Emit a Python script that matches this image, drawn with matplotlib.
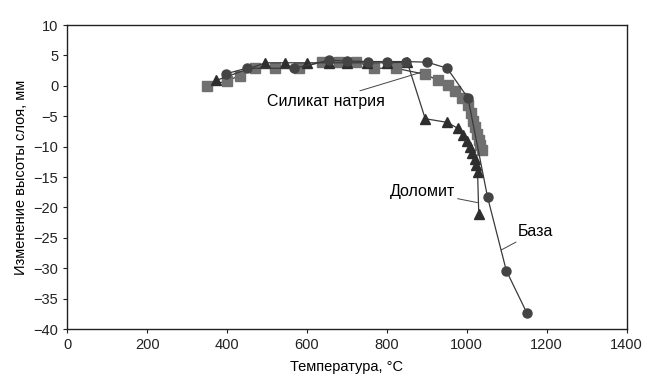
import numpy as np
import matplotlib
matplotlib.use('Agg')
from matplotlib import pyplot as plt

plt.rcParams['font.family'] = ['Liberation Sans', 'DejaVu Sans']

# Силикат натрия (squares)
sil_t = [350, 400, 432, 469, 521, 580, 637, 679, 723, 768, 822, 896, 928, 953,
         970, 988, 1003, 1010, 1016, 1021, 1026, 1030, 1034, 1037]
sil_h = [0, 0.8, 1.7, 2.9, 2.9, 3.0, 3.9, 4.0, 4.0, 2.9, 2.9, 1.9, 0.9, 0.1,
         -0.9, -2.0, -3.2, -4.5, -5.7, -6.8, -7.9, -8.9, -9.8, -10.6]

# Доломит (triangles)
dol_t = [373, 496, 546, 600, 655, 700, 750, 800, 851, 896, 951, 978, 990,
         1000, 1008, 1014, 1020, 1024, 1027, 1030]
dol_h = [0.9, 3.8, 3.8, 3.8, 3.8, 3.8, 3.8, 3.8, 3.9, -5.4, -6.0, -7.0, -8.0,
         -9.0, -10.0, -11.0, -12.0, -13.0, -14.2, -21.0]

# База (circles)
baz_t = [398, 449, 568, 654, 700, 753, 800, 847, 901, 951, 1003, 1052, 1099, 1150]
baz_h = [2.0, 2.9, 2.9, 4.2, 4.1, 4.0, 4.0, 4.0, 3.9, 2.9, -2.0, -18.3, -30.4, -37.3]

fig = plt.figure(figsize=(6.46, 3.8), dpi=100)
ax = fig.add_axes([0.104, 0.134, 0.866, 0.800])

line_c = '#3a3a3a'
ax.plot(sil_t, sil_h, color=line_c, lw=0.9, marker='s', ms=6.5,
        mfc='#707070', mec='#707070', zorder=2)
ax.plot(dol_t, dol_h, color=line_c, lw=0.9, marker='^', ms=7,
        mfc='#2e2e2e', mec='#2e2e2e', zorder=3)
ax.plot(baz_t, baz_h, color=line_c, lw=0.9, marker='o', ms=6.5,
        mfc='#444444', mec='#444444', zorder=4)

ax.set_xlim(0, 1400)
ax.set_ylim(-40, 10)
ax.set_xticks(np.arange(0, 1401, 200))
ax.set_yticks(np.arange(-40, 11, 5))
ax.tick_params(direction='out', length=3, width=0.8, labelsize=10.5, colors='#222222')
for s in ax.spines.values():
    s.set_linewidth(1.0)
    s.set_color('#222222')

ax.set_xlabel('Температура, °C', fontsize=10.5, labelpad=6)
ax.set_ylabel('Изменение высоты слоя, мм', fontsize=10.5, labelpad=4)

ann = dict(arrowstyle='-', color='#444444', lw=0.7, shrinkA=0, shrinkB=0)
ax.annotate('Силикат натрия', xy=(884, 2.2), xytext=(795, -2.5),
            ha='right', va='center', fontsize=11.5, arrowprops=ann)
ax.annotate('Доломит', xy=(1027, -19.2), xytext=(970, -17.4),
            ha='right', va='center', fontsize=11.5, arrowprops=ann)
ax.annotate('База', xy=(1086, -27.0), xytext=(1127, -24.0),
            ha='left', va='center', fontsize=11.5, arrowprops=ann)

fig.savefig('out.png', dpi=100)
